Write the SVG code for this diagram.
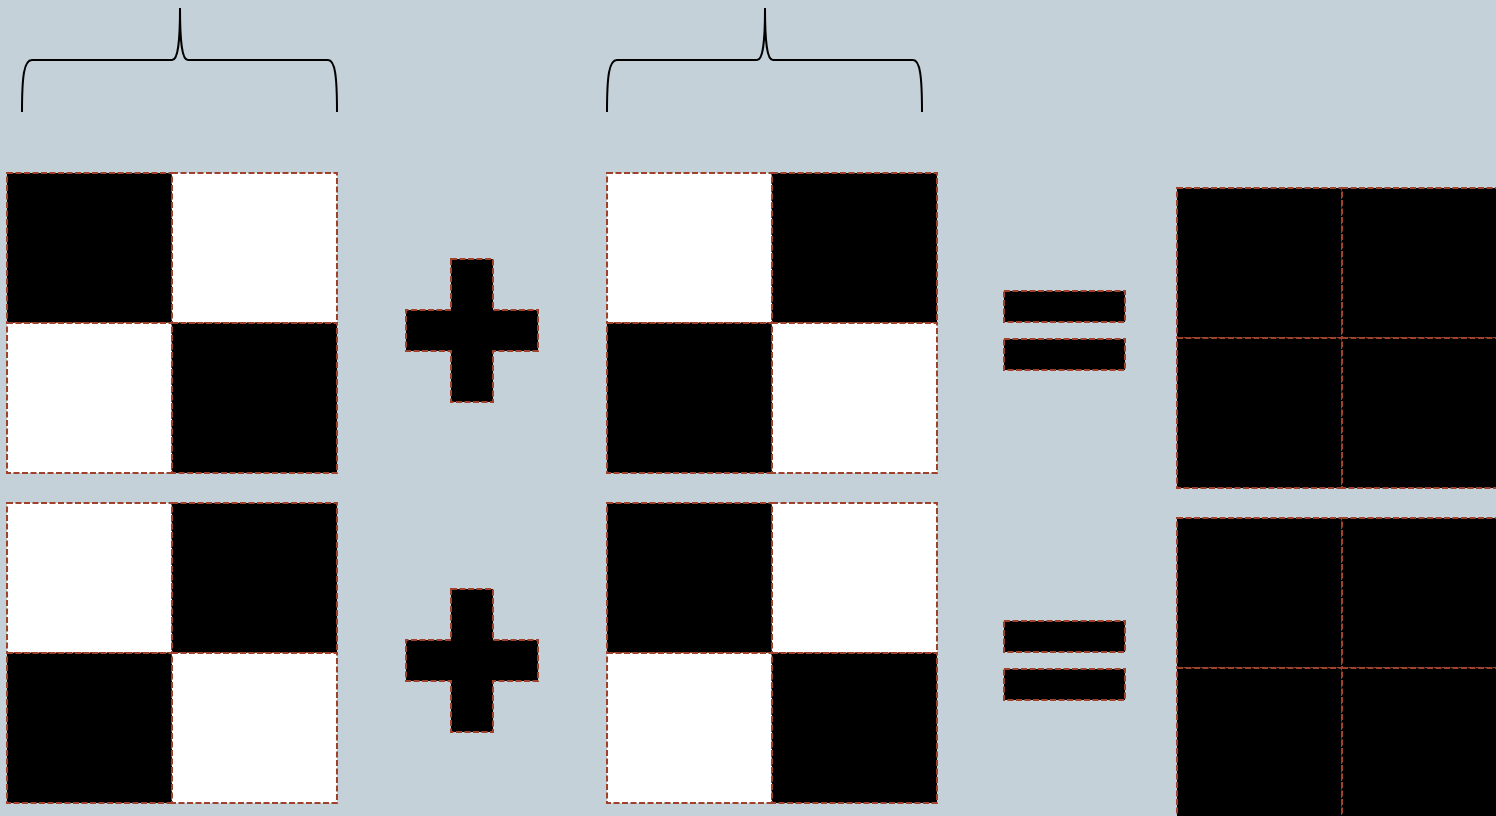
<svg xmlns="http://www.w3.org/2000/svg" width="1496" height="816" viewBox="0 0 1496 816">
<style>
.c{stroke:#a0412c;stroke-width:2;stroke-dasharray:6 2.5}
.b{fill:#000}
.w{fill:#fff}
.br{fill:none;stroke:#000;stroke-width:2}
</style>
<rect width="1496" height="816" fill="#c5d1d8"/>
<g id="brace1"><path class="br" d="M22,112 C22,76 24,60 32,60 L172,60 C178,60 180,42 180,8 C180,42 182,60 188,60 L328,60 C335,60 337,76 337,112"/></g>
<g id="brace2"><path class="br" d="M607,112 C607,76 609,60 617,60 L757,60 C763,60 765,42 765,8 C765,42 767,60 773,60 L913,60 C920,60 922,76 922,112"/></g>
<g id="gridA1">
<rect class="c b" x="7" y="173" width="165" height="150"/>
<rect class="c w" x="172" y="173" width="165" height="150"/>
<rect class="c w" x="7" y="323" width="165" height="150"/>
<rect class="c b" x="172" y="323" width="165" height="150"/>
</g>
<g id="gridA2">
<rect class="c w" x="7" y="503" width="165" height="150"/>
<rect class="c b" x="172" y="503" width="165" height="150"/>
<rect class="c b" x="7" y="653" width="165" height="150"/>
<rect class="c w" x="172" y="653" width="165" height="150"/>
</g>
<g id="gridB1">
<rect class="c w" x="607" y="173" width="165" height="150"/>
<rect class="c b" x="772" y="173" width="165" height="150"/>
<rect class="c b" x="607" y="323" width="165" height="150"/>
<rect class="c w" x="772" y="323" width="165" height="150"/>
</g>
<g id="gridB2">
<rect class="c b" x="607" y="503" width="165" height="150"/>
<rect class="c w" x="772" y="503" width="165" height="150"/>
<rect class="c w" x="607" y="653" width="165" height="150"/>
<rect class="c b" x="772" y="653" width="165" height="150"/>
</g>
<g id="gridC1">
<rect class="c b" x="1177" y="188" width="165" height="150"/>
<rect class="c b" x="1342" y="188" width="165" height="150"/>
<rect class="c b" x="1177" y="338" width="165" height="150"/>
<rect class="c b" x="1342" y="338" width="165" height="150"/>
</g>
<g id="gridC2">
<rect class="c b" x="1177" y="518" width="165" height="150"/>
<rect class="c b" x="1342" y="518" width="165" height="150"/>
<rect class="c b" x="1177" y="668" width="165" height="150"/>
<rect class="c b" x="1342" y="668" width="165" height="150"/>
</g>
<g id="plus1"><path class="c b" d="M451,259 H493 V310 H538 V351 H493 V402 H451 V351 H406 V310 H451 Z"/></g>
<g id="plus2"><path class="c b" d="M451,589 H493 V640 H538 V681 H493 V732 H451 V681 H406 V640 H451 Z"/></g>
<g id="equals1">
<rect class="c b" x="1004" y="291" width="121" height="31"/>
<rect class="c b" x="1004" y="339" width="121" height="31"/>
</g>
<g id="equals2">
<rect class="c b" x="1004" y="621" width="121" height="31"/>
<rect class="c b" x="1004" y="669" width="121" height="31"/>
</g>
<g id="connectors"/>
</svg>
